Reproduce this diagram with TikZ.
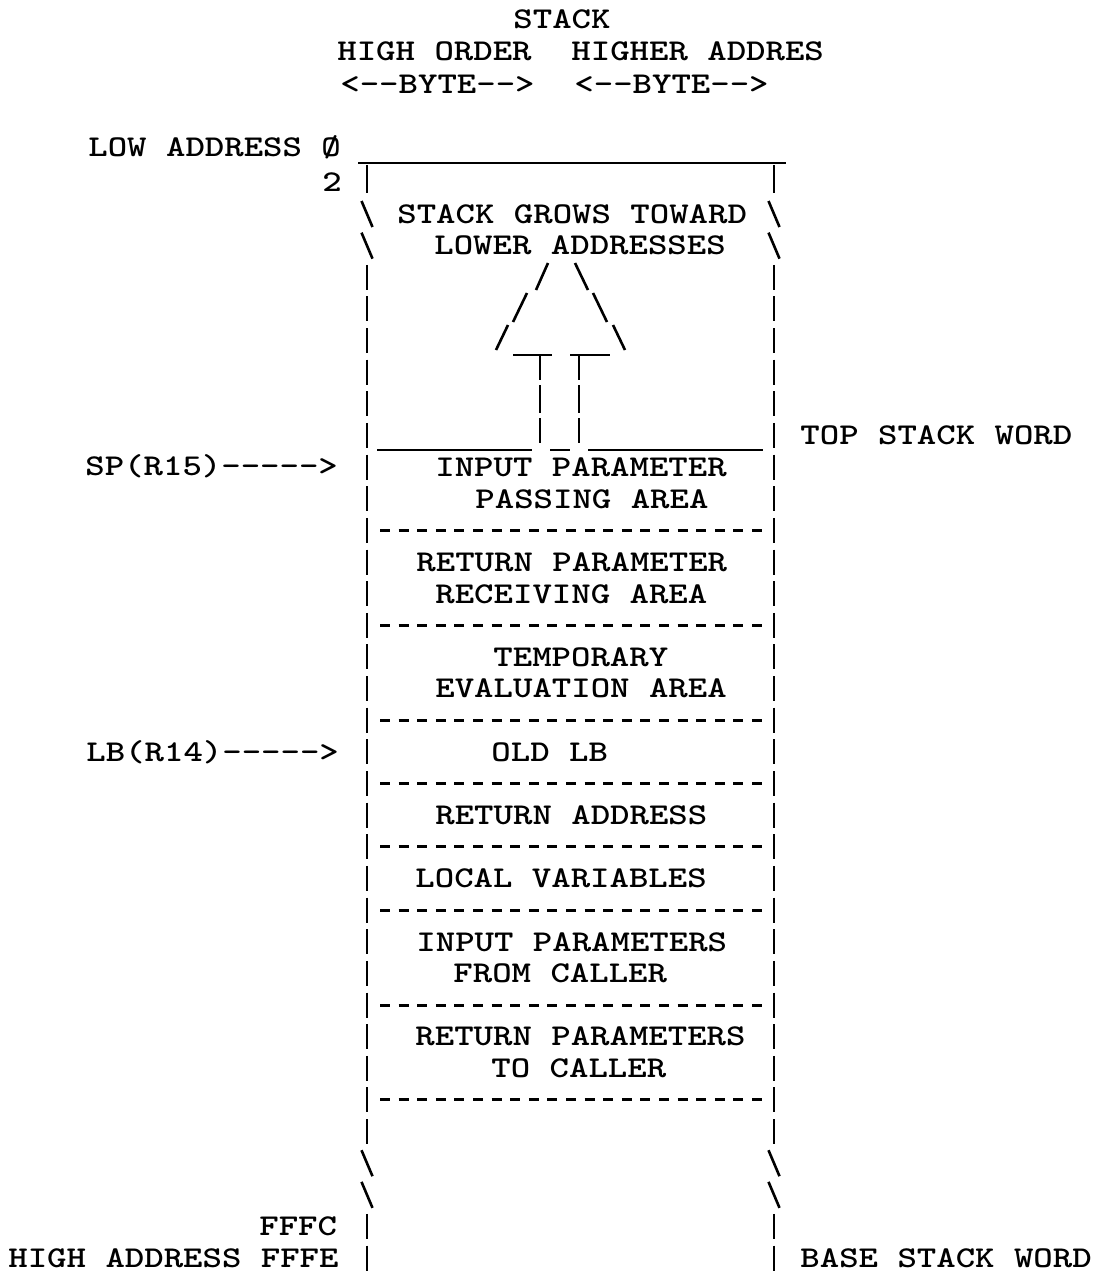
\documentclass[tikz,border=0pt]{standalone}
\usepackage{fontspec}
\usepackage{graphicx}
\newcommand{\tw}[1]{\scalebox{1.225}[1]{#1}}
\begin{document}
\begin{tikzpicture}[x=0.5pt,y=-0.5pt,
  lbl/.style={inner sep=0pt, anchor=base west, font=\fontsize{15.1}{18}\selectfont\ttfamily\bfseries},
  clbl/.style={lbl, anchor=base},
  bar/.style={line width=1.3pt},
  sep/.style={line width=1.5pt, dash pattern=on 5pt off 4.3pt},
  rule/.style={line width=1pt}]
\useasboundingbox[fill=white] (0,0) rectangle (1094,1274);

% header
\node[clbl] (stack) at (562,28.3) {\tw{STACK}};
\node[lbl] (hiord) at (337,60.3) {\tw{HIGH ORDER}};
\node[lbl] (hiaddr) at (571,60.3) {\tw{HIGHER ADDRES}};
\node[lbl] (byte1) at (340,93.3) {\tw{<--BYTE-->}};
\node[lbl] (byte2) at (574,93.3) {\tw{<--BYTE-->}};

% left labels
\node[lbl] (lowaddr) at (88,156.3) {\tw{LOW ADDRESS Ø}};
\node[lbl] (two) at (322,191.6) {\tw{2}};
\node[lbl] (sp) at (85,475.5) {\tw{SP(R15)----->}};
\node[lbl] (lb) at (86,761.1) {\tw{LB(R14)----->}};
\node[lbl] (fffc) at (259,1235.7) {\tw{FFFC}};
\node[lbl] (hiaddress) at (8,1267.4) {\tw{HIGH ADDRESS FFFE}};

% right labels
\node[lbl] (topword) at (800,444.5) {\tw{TOP STACK WORD}};
\node[lbl] (baseword) at (800,1267.4) {\tw{BASE STACK WORD}};

% inside texts
\node[lbl] (grow1) at (397,223.3) {\tw{STACK GROWS TOWARD}};
\node[lbl] (grow2) at (434,254.9) {\tw{LOWER ADDRESSES}};
\node[lbl] (in1) at (435,476.4) {\tw{INPUT PARAMETER}};
\node[lbl] (in2) at (475,508) {\tw{PASSING AREA}};
\node[lbl] (ret1) at (416,571.3) {\tw{RETURN PARAMETER}};
\node[lbl] (ret2) at (435,603) {\tw{RECEIVING AREA}};
\node[lbl] (tmp1) at (493,666.3) {\tw{TEMPORARY}};
\node[lbl] (tmp2) at (435,697.9) {\tw{EVALUATION AREA}};
\node[lbl] (oldlb) at (491,761.1) {\tw{OLD LB}};
\node[lbl] (retaddr) at (435,824.4) {\tw{RETURN ADDRESS}};
\node[lbl] (locvar) at (415,887.7) {\tw{LOCAL VARIABLES}};
\node[lbl] (inp1) at (416,951) {\tw{INPUT PARAMETERS}};
\node[lbl] (inp2) at (453,982.6) {\tw{FROM CALLER}};
\node[lbl] (retp1) at (415,1045.9) {\tw{RETURN PARAMETERS}};
\node[lbl] (retp2) at (491,1077.5) {\tw{TO CALLER}};

% top rule with T ends
\draw[rule] (358,163) -- (786,163);
\draw[bar] (367,165) -- (367,193);
\draw[bar] (774,165) -- (774,193);

% vertical bars, one segment per text row
\foreach \r in {2,...,29,32,33} {
  \pgfmathsetmacro{\yc}{214+31.64*\r}
  \draw[bar] (367,\yc-12.5) -- (367,\yc+12.5);
  \draw[bar] (774,\yc-12.5) -- (774,\yc+12.5);
}
% backslashes
\foreach \r in {0,1,30,31} {
  \pgfmathsetmacro{\yc}{214+31.64*\r}
  \draw[bar] (361.5,\yc-13) -- (372.5,\yc+13);
  \draw[bar] (768.5,\yc-13) -- (779.5,\yc+13);
}

% big arrow head
\draw[bar] (548,263) -- (536,290);
\draw[bar] (527,293) -- (513,322);
\draw[bar] (508,325) -- (496,350);
\draw[bar] (575,263) -- (588,290);
\draw[bar] (593,293) -- (607,322);
\draw[bar] (613,325) -- (625,350);
% arrow shaft
\draw[bar] (513,355) -- (552,355);
\draw[bar] (570,355) -- (610,355);
\foreach \a/\b in {355/380,385/413,418/443} {
  \draw[bar] (540,\a) -- (540,\b);
  \draw[bar] (579,\a) -- (579,\b);
}
% top-of-stack rule
\draw[rule] (377,450) -- (532,450);
\draw[rule] (550,450) -- (570,450);
\draw[rule] (588,450) -- (763,450);

% dashed separators
\foreach \r in {10,13,16,18,20,22,25,28} {
  \pgfmathsetmacro{\yc}{214+31.64*\r}
  \draw[sep] (380,\yc) -- (762,\yc);
}
\end{tikzpicture}
\end{document}
